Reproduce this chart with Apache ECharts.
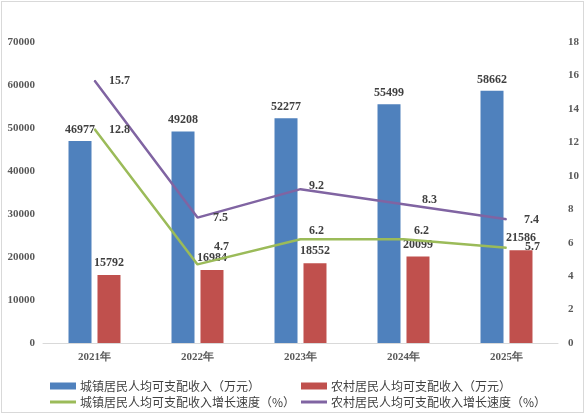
<!DOCTYPE html>
<html>
<head>
    <meta charset="utf-8">
    <script src="https://cdn.jsdelivr.net/npm/echarts@6/dist/echarts.min.js"></script>
    <style>
        html, body { margin: 0; padding: 0; background: #fff; }
        #main { width: 586px; height: 415px; }
        #frame { position: absolute; left: 1px; top: 1px; width: 581px; height: 410px;
                 border: 1px solid #d9d9d9; pointer-events: none; }
    </style>
</head>
<body>
<div id="main"></div>
<div id="frame"></div>
<script>
  // 数据
  var years = ['2021年', '2022年', '2023年', '2024年', '2025年'];
  var urbanIncome = [46977, 49208, 52277, 55499, 58662];   // 城镇居民人均可支配收入
  var ruralIncome = [15792, 16984, 18552, 20099, 21586];   // 农村居民人均可支配收入
  var urbanGrowth = [12.8, 4.7, 6.2, 6.2, 5.7];            // 城镇增长速度
  var ruralGrowth = [15.7, 7.5, 9.2, 8.3, 7.4];            // 农村增长速度

  // 折线标签的微调（仅样式）
  var urbanLabelShift = [[0, 1], [2, -17], [-6, -8], [-4, -8], [4, -1]];
  var ruralLabelShift = [[0, 0], [1, 0], [-6, -3], [4, -4], [3, 1]];

  var numFont = '"Liberation Serif", "Times New Roman", serif';
  var cjkFont = '"Noto Sans CJK SC", sans-serif';

  function withShift(values, shifts) {
    return values.map(function (v, i) {
      return { value: v, label: { offset: shifts[i] } };
    });
  }

  var labelStyle = {
    show: true,
    color: '#404040',
    fontFamily: numFont,
    fontWeight: 'bold',
    fontSize: 12
  };

  function legendItem(name, left, top, icon, w, h) {
    return {
      data: [{ name: name, icon: icon }],
      left: left,
      top: top,
      itemWidth: w,
      itemHeight: h,
      itemGap: 0,
      textStyle: { color: '#404040', fontFamily: cjkFont, fontSize: 12, padding: [0, 0, 0, -1] },
      selectedMode: false
    };
  }

  var myChart = echarts.init(document.getElementById('main'));
  var option = {
    animation: false,
    grid: { left: 43, right: 28, top: 42, bottom: 72 },
    legend: [
      legendItem('城镇居民人均可支配收入（万元）', 45, 375, 'rect', 26, 7),
      legendItem('农村居民人均可支配收入（万元）', 296, 375, 'rect', 26, 7),
      legendItem('城镇居民人均可支配收入增长速度（%）', 45, 391, 'path://M0,0H26V3H0Z', 26, 3),
      legendItem('农村居民人均可支配收入增长速度（%）', 296, 391, 'path://M0,0H26V3H0Z', 26, 3)
    ],
    xAxis: {
      type: 'category',
      data: years,
      axisLine: { lineStyle: { color: '#d9d9d9', width: 1 } },
      axisTick: { show: false },
      axisLabel: { color: '#595959', fontFamily: numFont, fontWeight: 'bold', fontSize: 11, margin: 9 }
    },
    yAxis: [{
      type: 'value',
      min: 0,
      max: 70000,
      interval: 10000,
      splitLine: { show: false },
      axisLine: { show: false },
      axisTick: { show: false },
      axisLabel: {
        color: '#595959', fontFamily: numFont, fontWeight: 'bold', fontSize: 11, margin: 8,
        formatter: function (v) { return String(v); }
      }
    }, {
      type: 'value',
      min: 0,
      max: 18,
      interval: 2,
      splitLine: { show: false },
      axisLine: { show: false },
      axisTick: { show: false },
      axisLabel: { color: '#595959', fontFamily: numFont, fontWeight: 'bold', fontSize: 11, margin: 10 }
    }],
    series: [{
      name: '城镇居民人均可支配收入（万元）',
      type: 'bar',
      data: urbanIncome,
      barWidth: 23,
      barGap: '26%',
      itemStyle: { color: '#4F81BD' },
      label: Object.assign({ position: 'top', distance: 5 }, labelStyle)
    }, {
      name: '农村居民人均可支配收入（万元）',
      type: 'bar',
      data: ruralIncome,
      barWidth: 23,
      barGap: '26%',
      itemStyle: { color: '#C0504D' },
      label: Object.assign({ position: 'top', distance: 6 }, labelStyle)
    }, {
      name: '城镇居民人均可支配收入增长速度（%）',
      type: 'line',
      yAxisIndex: 1,
      data: withShift(urbanGrowth, urbanLabelShift),
      symbol: 'circle',
      symbolSize: 1,
      showSymbol: true,
      lineStyle: { color: '#9BBB59', width: 2.5 },
      itemStyle: { color: '#9BBB59' },
      label: Object.assign({ position: 'right', distance: 14 }, labelStyle)
    }, {
      name: '农村居民人均可支配收入增长速度（%）',
      type: 'line',
      yAxisIndex: 1,
      data: withShift(ruralGrowth, ruralLabelShift),
      symbol: 'circle',
      symbolSize: 1,
      showSymbol: true,
      lineStyle: { color: '#8064A2', width: 2.5 },
      itemStyle: { color: '#8064A2' },
      label: Object.assign({ position: 'right', distance: 14 }, labelStyle)
    }]
  };
  myChart.setOption(option);
</script>
</body>
</html>
